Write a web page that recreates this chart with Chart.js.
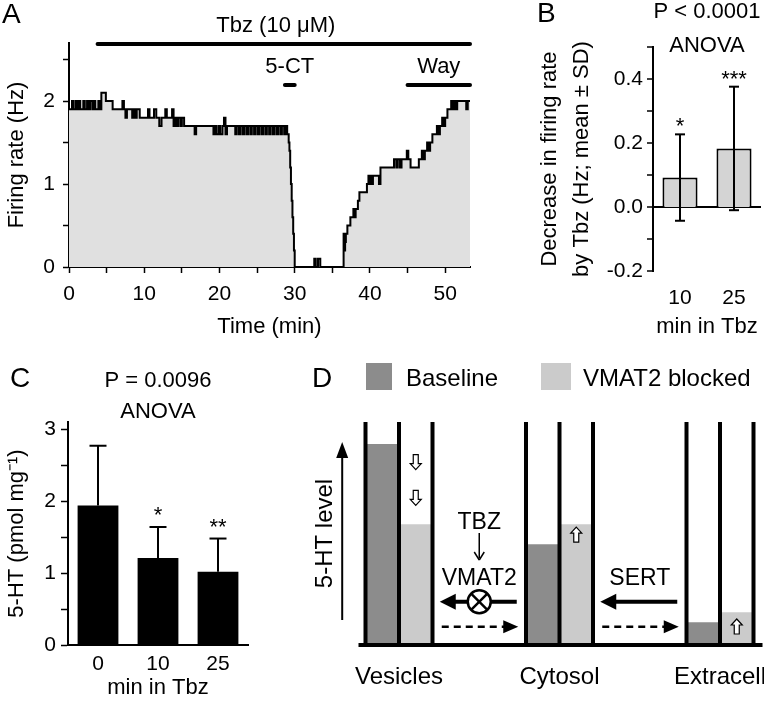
<!DOCTYPE html>
<html>
<head>
<meta charset="utf-8">
<script src="https://cdn.jsdelivr.net/npm/chart.js@4.4.1/dist/chart.umd.min.js"></script>
<style>
  body { margin: 0; background: #fff; width: 764px; height: 701px; position: relative; overflow: hidden; }
  canvas { position: absolute; }
</style>
</head>
<body>
<canvas id="chartA" width="480" height="340" style="left:0;top:0"></canvas>
<canvas id="chartB" width="284" height="340" style="left:480px;top:0"></canvas>
<canvas id="chartC" width="300" height="361" style="left:0;top:340px"></canvas>
<canvas id="chartD" width="464" height="361" style="left:300px;top:340px"></canvas>
<script>
// A: firing rate trace (min, Hz)
const timeMin = [
  0, 0.4, 0.6, 0.9, 1.1, 1.3, 1.5, 1.9, 2.1, 2.4,
  2.6, 2.8, 3.1, 3.3, 3.5, 3.9, 4.1, 4.3, 4.9, 5.8,
  7.1, 7.3, 7.5, 7.7, 8.4, 8.6, 8.8, 9.0, 9.4, 10.5,
  10.7, 11.3, 11.6, 12.0, 12.3, 12.8, 13.0, 13.7, 13.9, 14.1,
  14.3, 14.5, 14.8, 15.0, 15.3, 16.7, 16.9, 19.2, 19.4, 19.6,
  19.9, 20.1, 20.4, 20.6, 20.8, 21.0, 22.1, 22.3, 22.6, 22.8,
  23.1, 23.3, 23.6, 23.8, 24.1, 24.3, 24.6, 24.8, 25.1, 25.3,
  25.6, 25.8, 26.1, 26.3, 26.6, 26.8, 27.1, 27.3, 27.6, 27.8,
  28.1, 28.3, 28.6, 28.8, 29.0, 29.2, 29.3, 29.4, 29.5, 29.6,
  29.7, 29.8, 29.9, 30.0, 32.6, 32.8, 33.1, 33.4, 36.5, 36.6,
  36.7, 36.8, 37.0, 37.4, 37.8, 38.0, 38.1, 38.4, 38.6, 39.6,
  39.8, 39.9, 40.1, 40.2, 40.4, 41.2, 41.4, 43.2, 43.5, 43.7,
  44.0, 44.2, 44.9, 45.1, 45.4, 46.5, 46.9, 47.1, 47.3, 47.6,
  47.8, 48.0, 48.3, 48.9, 49.1, 49.3, 49.6, 49.8, 50.0, 50.3,
  50.8, 51.0, 51.2, 51.4, 51.6, 52.8, 53.0, 53.3
];
const rateHz = [
  1.9, 2.0, 1.9, 2.0, 1.9, 2.0, 1.9, 2.0, 1.9, 2.0,
  1.9, 2.0, 1.9, 2.0, 1.9, 2.0, 1.9, 2.1, 2.0, 1.9,
  2.0, 1.9, 1.8, 1.9, 1.8, 1.9, 1.8, 1.9, 1.8, 1.9,
  1.8, 1.9, 1.8, 1.7, 1.8, 1.9, 1.8, 1.9, 1.7, 1.8,
  1.7, 1.8, 1.7, 1.8, 1.7, 1.6, 1.7, 1.6, 1.7, 1.6,
  1.7, 1.6, 1.7, 1.8, 1.6, 1.7, 1.6, 1.7, 1.6, 1.7,
  1.6, 1.7, 1.6, 1.7, 1.6, 1.7, 1.6, 1.7, 1.6, 1.7,
  1.6, 1.7, 1.6, 1.7, 1.6, 1.7, 1.6, 1.7, 1.6, 1.7,
  1.6, 1.7, 1.6, 1.7, 1.6, 1.5, 1.4, 1.2, 1.0, 0.8,
  0.6, 0.4, 0.2, 0, 0.1, 0, 0.1, 0, 0.4, 0.2,
  0.3, 0.4, 0.5, 0.6, 0.7, 0.6, 0.7, 0.8, 0.9, 1.0,
  1.1, 1.0, 1.1, 1.0, 1.1, 1.0, 1.2, 1.3, 1.2, 1.3,
  1.2, 1.3, 1.4, 1.3, 1.2, 1.3, 1.4, 1.3, 1.4, 1.5,
  1.4, 1.5, 1.6, 1.7, 1.6, 1.7, 1.8, 1.7, 1.8, 1.9,
  2.0, 1.9, 2.0, 1.9, 2.0, 1.9, 2.0, 2.0
];
const treatLabels = ['Tbz (10 \u03bcM)', '5-CT', 'Way'];
const treatStart = [3.8, 28.7, 45.0];
const treatEnd = [53.3, 30.0, 53.3];

// B: decrease in firing rate
const bLabels = ['10', '25'];
const bMean = [0.092, 0.183];
const bSd = [0.135, 0.193];
const bStars = ['*', '***'];

// C: tissue 5-HT
const cLabels = ['0', '10', '25'];
const cMean = [1.94, 1.21, 1.02];
const cSd = [0.83, 0.43, 0.46];
const cStars = ['', '*', '**'];

// D: scheme
const dCompartments = ['Vesicles', 'Cytosol', 'Extracell'];
const dBaseline = [9.0, 4.5, 1.0];
const dBlocked = [5.4, 5.4, 1.45];

const FONT = "'Liberation Sans', Arial, Helvetica, sans-serif";
Chart.defaults.font.family = FONT;
Chart.defaults.color = '#000';

function isMult(v, step) {
    const q = v / step;
    return Math.abs(q - Math.round(q)) < 1e-6;
}

function txt(ctx, s, x, y, size, align) {
    ctx.save();
    ctx.font = size + 'px ' + FONT;
    ctx.fillStyle = '#000';
    ctx.textAlign = align || 'center';
    ctx.textBaseline = 'alphabetic';
    ctx.fillText(s, x, y);
    ctx.restore();
}

function line(ctx, x0, y0, x1, y1, w) {
    ctx.lineWidth = w;
    ctx.beginPath();
    ctx.moveTo(x0, y0);
    ctx.lineTo(x1, y1);
    ctx.stroke();
}

// filled triangle head; tip at (x, y), pointing along (dx, dy)
function head(ctx, x, y, dx, dy, len, half) {
    ctx.beginPath();
    ctx.moveTo(x, y);
    ctx.lineTo(x - dx * len - dy * half, y - dy * len - dx * half);
    ctx.lineTo(x - dx * len + dy * half, y - dy * len + dx * half);
    ctx.closePath();
    ctx.fill();
}

function yAxis(min, max, step, labelStep, decimals, tick, pad, width, titleText, titleFont, lh) {
    return {
        min: min, max: max,
        ticks: {
            stepSize: step, includeBounds: false, padding: pad, font: { size: 21 },
            callback: v => isMult(v, labelStep) ? (Math.round(v * 10) / 10).toFixed(decimals) : ''
        },
        grid: { display: true, drawOnChartArea: false, tickLength: tick, tickWidth: 1.5, tickColor: '#000' },
        border: { color: '#000', width: 2 },
        title: { display: true, text: titleText, font: { size: titleFont, lineHeight: lh }, padding: { top: 4, bottom: 0 } },
        afterFit: s => { s.width = width; }
    };
}

// ---------- A ----------
const treatmentBars = {
    id: 'treatmentBars',
    afterDraw(chart) {
        const ctx = chart.ctx, xs = chart.scales.x;
        txt(ctx, 'A', 2, 23, 28, 'left');
        ctx.save();
        ctx.strokeStyle = '#000';
        ctx.lineCap = 'round';
        treatLabels.forEach((lab, i) => {
            const x0 = xs.getPixelForValue(treatStart[i]);
            const x1 = xs.getPixelForValue(treatEnd[i]);
            const rowY = i === 0 ? 44 : 85;
            line(ctx, x0, rowY, x1, rowY, 4);
            const cx = (x0 + x1) / 2 - (i === 0 ? 8 : 0);
            txt(ctx, lab, cx, i === 0 ? 32 : 73, 22);
        });
        ctx.restore();
    }
};

new Chart(document.getElementById('chartA'), {
    type: 'line',
    data: {
        datasets: [{
            data: timeMin.map((t, i) => ({ x: t, y: rateHz[i] })),
            stepped: true,
            fill: 'origin',
            backgroundColor: '#e0e0e0',
            borderColor: '#000',
            borderWidth: 2,
            pointRadius: 0
        }]
    },
    options: {
        responsive: false, animation: false,
        layout: { padding: { left: 0, right: 10, top: 43, bottom: 0 } },
        plugins: { legend: { display: false }, tooltip: { enabled: false } },
        scales: {
            x: {
                type: 'linear', min: 0, max: 53.3,
                ticks: {
                    stepSize: 5, includeBounds: false, padding: 9, maxRotation: 0, autoSkip: false, font: { size: 21 },
                    callback: v => isMult(v, 10) ? String(Math.round(v)) : ''
                },
                grid: { display: true, drawOnChartArea: false, tickLength: 6, tickWidth: 1.5, tickColor: '#000' },
                border: { color: '#000', width: 2 },
                title: { display: true, text: 'Time (min)', font: { size: 22 }, padding: { top: 0, bottom: 0 } },
                afterFit: s => { s.height = 73; }
            },
            y: yAxis(0, 2.7, 0.5, 1, 0, 6, 8, 69, 'Firing rate (Hz)', 22, 1.2)
        }
    },
    plugins: [treatmentBars]
});

// ---------- B ----------
const errorBarsB = {
    id: 'errorBarsB',
    afterDatasetsDraw(chart) {
        const ctx = chart.ctx, ys = chart.scales.y, area = chart.chartArea;
        const bars = chart.getDatasetMeta(0).data;
        ctx.save();
        ctx.strokeStyle = '#000';
        bars.forEach((b, i) => {
            const yt = ys.getPixelForValue(bMean[i] + bSd[i]);
            const yb = ys.getPixelForValue(bMean[i] - bSd[i]);
            line(ctx, b.x, yt, b.x, yb, 2);
            line(ctx, b.x - 5, yt, b.x + 5, yt, 2);
            line(ctx, b.x - 5, yb, b.x + 5, yb, 2);
            txt(ctx, bStars[i], b.x, yt - 1, 22);
        });
        ctx.restore();
        const cx = (area.left + area.right) / 2;
        txt(ctx, 'B', 57, 22, 28, 'left');
        txt(ctx, 'P < 0.0001', cx, 18, 22);
        txt(ctx, 'ANOVA', cx, 52, 22);
    }
};

const yB = yAxis(-0.2, 0.5, 0.1, 0.2, 1, 6, 4, 123,
    ['Decrease in firing rate', 'by Tbz (Hz; mean \u00b1 SD)'], 22, 1.45);
// zero line for B is drawn through the y grid
yB.grid.drawOnChartArea = true;
yB.grid.color = c => (c.tick && Math.abs(c.tick.value) < 1e-9) ? '#000' : 'rgba(0,0,0,0)';
yB.grid.lineWidth = 2;

new Chart(document.getElementById('chartB'), {
    type: 'bar',
    data: {
        labels: bLabels,
        datasets: [{
            data: bMean,
            backgroundColor: '#d4d4d4',
            borderColor: '#000',
            borderWidth: 2,
            barPercentage: 0.65,
            categoryPercentage: 1.0
        }]
    },
    options: {
        responsive: false, animation: false,
        layout: { padding: { left: 50, right: 3, top: 47, bottom: 0 } },
        plugins: { legend: { display: false }, tooltip: { enabled: false } },
        scales: {
            x: {
                ticks: { font: { size: 21 }, padding: 15 },
                grid: { display: false, drawTicks: false },
                border: { display: false },
                title: { display: true, text: 'min in Tbz', font: { size: 22 }, padding: { top: 0, bottom: 0 } },
                afterFit: s => { s.height = 69; }
            },
            y: yB
        }
    },
    plugins: [errorBarsB]
});

// ---------- C ----------
const errorBarsC = {
    id: 'errorBarsC',
    afterDatasetsDraw(chart) {
        const ctx = chart.ctx, ys = chart.scales.y, area = chart.chartArea;
        const bars = chart.getDatasetMeta(0).data;
        ctx.save();
        ctx.strokeStyle = '#000';
        bars.forEach((b, i) => {
            const yt = ys.getPixelForValue(cMean[i] + cSd[i]);
            const ym = ys.getPixelForValue(cMean[i]);
            line(ctx, b.x, yt, b.x, ym, 2);
            line(ctx, b.x - 8.5, yt, b.x + 8.5, yt, 2);
            txt(ctx, cStars[i], b.x, yt - 5, 22);
        });
        ctx.restore();
        const cx = (area.left + area.right) / 2;
        txt(ctx, 'C', 10, 47, 28, 'left');
        txt(ctx, 'P = 0.0096', cx, 47, 22);
        txt(ctx, 'ANOVA', cx, 78, 22);
    }
};

new Chart(document.getElementById('chartC'), {
    type: 'bar',
    data: {
        labels: cLabels,
        datasets: [{
            data: cMean,
            backgroundColor: '#000',
            barPercentage: 0.68,
            categoryPercentage: 1.0
        }]
    },
    options: {
        responsive: false, animation: false,
        layout: { padding: { left: 0, right: 52, top: 82, bottom: 0 } },
        plugins: { legend: { display: false }, tooltip: { enabled: false } },
        scales: {
            x: {
                ticks: { font: { size: 21 }, padding: 7 },
                grid: { display: false, drawTicks: false },
                border: { color: '#000', width: 2 },
                title: { display: true, text: 'min in Tbz', font: { size: 22 }, padding: { top: 0, bottom: 0 } },
                afterFit: s => { s.height = 56; }
            },
            y: yAxis(0, 3.1, 0.5, 1, 0, 7, 5, 68, '5-HT (pmol mg\u207b\u00b9)', 22, 1.2)
        }
    },
    plugins: [errorBarsC]
});

// ---------- D ----------
function hollowArrow(ctx, cx, cy, dir) {
    const h = 15, sw = 2.5, hw = 5.5, hh = 6;
    const tip = cy + dir * h / 2, tail = cy - dir * h / 2, neck = tip - dir * hh;
    ctx.beginPath();
    ctx.moveTo(cx - sw, tail);
    ctx.lineTo(cx + sw, tail);
    ctx.lineTo(cx + sw, neck);
    ctx.lineTo(cx + hw, neck);
    ctx.lineTo(cx, tip);
    ctx.lineTo(cx - hw, neck);
    ctx.lineTo(cx - sw, neck);
    ctx.closePath();
    ctx.fillStyle = '#fff';
    ctx.fill();
    ctx.lineWidth = 1.2;
    ctx.stroke();
}

const compartmentScheme = {
    id: 'compartmentScheme',
    afterDatasetsDraw(chart) {
        const ctx = chart.ctx, ys = chart.scales.y;
        const base = ys.getPixelForValue(0), top = ys.getPixelForValue(10);
        const m0 = chart.getDatasetMeta(0).data, m1 = chart.getDatasetMeta(1).data;
        const sets = chart.data.datasets;
        ctx.save();
        ctx.strokeStyle = '#000';
        ctx.fillStyle = '#000';

        // compartment walls
        m0.forEach((b0, i) => {
            const b1 = m1[i];
            [b0.x - b0.width / 2, b0.x + b0.width / 2, b1.x + b1.width / 2].forEach(wx => line(ctx, wx, top, wx, base, 4));
        });
        const first = m0[0].x - m0[0].width / 2;
        const last = m1[2].x + m1[2].width / 2;
        line(ctx, first - 7, base, last + 9, base, 4);

        // level axis
        const ax = first - 23.3;
        line(ctx, ax, base - 25, ax, top + 32, 2);
        head(ctx, ax, top + 20, 0, -1, 16, 6);
        ctx.save();
        ctx.translate(first - 42, (base + top) / 2);
        ctx.rotate(-Math.PI / 2);
        txt(ctx, '5-HT level', 0, 8, 24);
        ctx.restore();

        // changes after VMAT2 block
        ctx.strokeStyle = '#000';
        hollowArrow(ctx, m1[0].x, ys.getPixelForValue(8.2), 1);
        hollowArrow(ctx, m1[0].x, ys.getPixelForValue(6.6), 1);
        hollowArrow(ctx, m1[1].x, ys.getPixelForValue(4.95), -1);
        hollowArrow(ctx, m1[2].x, ys.getPixelForValue(0.83), -1);
        ctx.fillStyle = '#000';

        // transporters
        const gaps = [
            ((m1[0].x + m1[0].width / 2) + (m0[1].x - m0[1].width / 2)) / 2,
            ((m1[1].x + m1[1].width / 2) + (m0[2].x - m0[2].width / 2)) / 2
        ];
        const yThick = base - 43.3, yDash = base - 18.3;
        gaps.forEach((g, i) => {
            line(ctx, g + 37.5, yThick, g - 28, yThick, 4);
            head(ctx, g - 39.5, yThick, -1, 0, 16, 8);
            ctx.setLineDash([7, 5]);
            line(ctx, g - 37.5, yDash, g + 26, yDash, 2.5);
            ctx.setLineDash([]);
            head(ctx, g + 39, yDash, 1, 0, 15, 6.5);
            txt(ctx, i === 0 ? 'VMAT2' : 'SERT', g, base - 60, 23);
        });
        const g0 = gaps[0];
        ctx.beginPath();
        ctx.arc(g0, yThick, 11.5, 0, Math.PI * 2);
        ctx.fillStyle = '#fff';
        ctx.fill();
        ctx.lineWidth = 2.5;
        ctx.stroke();
        const d = 11.5 * Math.SQRT1_2;
        line(ctx, g0 - d, yThick - d, g0 + d, yThick + d, 2.5);
        line(ctx, g0 - d, yThick + d, g0 + d, yThick - d, 2.5);
        ctx.fillStyle = '#000';
        txt(ctx, 'TBZ', g0, base - 116, 23);
        line(ctx, g0, base - 112, g0, base - 87, 1.5);
        line(ctx, g0 - 5, base - 93, g0, base - 85, 1.5);
        line(ctx, g0 + 5, base - 93, g0, base - 85, 1.5);

        // legend
        ctx.fillStyle = sets[0].backgroundColor;
        ctx.fillRect(66, 23, 26, 27);
        ctx.fillStyle = sets[1].backgroundColor;
        ctx.fillRect(241, 23, 30, 27);
        txt(ctx, sets[0].label, 106, 46, 24, 'left');
        txt(ctx, sets[1].label, 283, 46, 24, 'left');
        txt(ctx, 'D', 12, 47, 28, 'left');
        ctx.restore();
    }
};

new Chart(document.getElementById('chartD'), {
    type: 'bar',
    data: {
        labels: dCompartments,
        datasets: [
            { label: 'Baseline', data: dBaseline, backgroundColor: '#8c8c8c', clip: false },
            { label: 'VMAT2 blocked', data: dBlocked, backgroundColor: '#cbcbcb', clip: false }
        ]
    },
    options: {
        responsive: false, animation: false,
        datasets: { bar: { barThickness: 33.5 } },
        layout: { padding: { left: 99, right: 44, top: 82, bottom: 0 } },
        plugins: { legend: { display: false }, tooltip: { enabled: false } },
        scales: {
            x: {
                offset: false,
                ticks: { font: { size: 24 }, padding: 18, maxRotation: 0, autoSkip: false },
                grid: { display: false, drawTicks: false },
                border: { display: false },
                afterFit: s => { s.height = 56; s.paddingLeft = 0; s.paddingRight = 0; }
            },
            y: { display: false, min: 0, max: 10 }
        }
    },
    plugins: [compartmentScheme]
});
</script>
</body>
</html>
